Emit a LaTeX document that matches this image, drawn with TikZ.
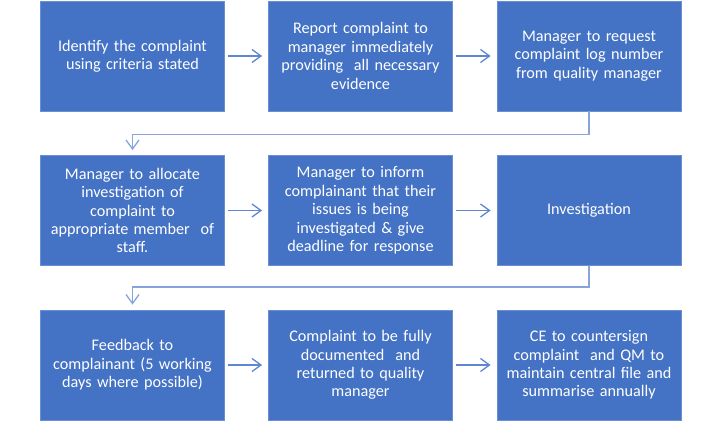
\documentclass[tikz,border=0pt]{standalone}
\usepackage{fontspec}
\setmainfont{Carlito}
\usetikzlibrary{arrows.meta, positioning}
\definecolor{boxblue}{HTML}{4472C4}
\definecolor{edgeblue}{HTML}{6A8FD4}
\definecolor{lineblue}{HTML}{5F86D0}

\begin{document}
\begin{tikzpicture}[x=1pt, y=-1pt,
      b/.style={draw=edgeblue, fill=boxblue, text=white, align=center,
                font=\fontsize{16.2}{18.4}\selectfont, line width=0.8pt,
                minimum width=184pt, minimum height=110pt, text width=180pt, inner sep=2pt},
      ar/.style={-{Straight Barb[length=9pt, width=13pt]}, lineblue, line width=1.3pt},
      el/.style={ar, lineblue!75}
    ]
    \useasboundingbox (0,0) rectangle (720,423);

    % row 1
    \node[b] (ident)  at (132.5,56) {Identify the complaint\\using criteria stated};
    \node[b] (report) at (360.5,56) {Report complaint to\\manager immediately\\providing\ \ all necessary\\evidence};
    \node[b] (lognum) at (589,56)   {Manager to request\\complaint log number\\from quality manager};

    % row 2
    \node[b] (alloc)  at (132.5,210.5) {Manager to allocate\\investigation of\\complaint to\\appropriate member\ \ of\\staff.};
    \node[b] (inform) at (360.5,210.5) {Manager to inform\\complainant that their\\issues is being\\investigated \& give\\deadline for response};
    \node[b] (invest) at (589,210.5)   {Investigation};

    % row 3
    \node[b] (feedback) at (132.5,365) {Feedback to\\complainant (5 working\\days where possible)};
    \node[b] (docum)    at (360.5,365) {Complaint to be fully\\documented\ \ and\\returned to quality\\manager};
    \node[b] (sign)     at (589,365)   {CE to countersign\\complaint\ \ and QM to\\maintain central file and\\summarise annually};

    \draw[ar] ([xshift=3pt]ident.east) -- ([xshift=-6pt]report.west);
    \draw[ar] ([xshift=3pt]report.east) -- ([xshift=-6pt]lognum.west);
    \draw[ar] ([xshift=3pt]alloc.east) -- ([xshift=-6pt]inform.west);
    \draw[ar] ([xshift=3pt]inform.east) -- ([xshift=-6pt]invest.west);
    \draw[ar] ([xshift=3pt]feedback.east) -- ([xshift=-6pt]docum.west);
    \draw[ar] ([xshift=3pt]docum.east) -- ([xshift=-6pt]sign.west);

    \draw[el] (lognum.south) -- ++(0,23) -| ([yshift=5pt]alloc.north);
    \draw[el] (invest.south) -- ++(0,21) -| ([yshift=5pt]feedback.north);
  \end{tikzpicture}
\end{document}
